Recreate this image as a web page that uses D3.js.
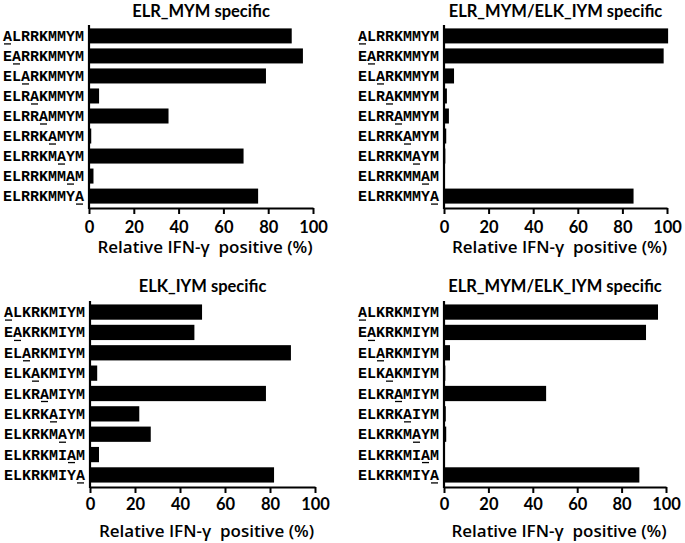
<!DOCTYPE html>
<html>
<head>
<meta charset="utf-8">
<script src="https://cdn.jsdelivr.net/npm/d3@7"></script>
<style>
  body { margin: 0; background: #fff; }
  svg { display: block; }
  .title { font-family: Lato, "Open Sans", sans-serif; font-weight: bold; font-size: 16.5px; }
  .axis-title { font-family: "Open Sans", Lato, sans-serif; font-weight: 600; font-size: 17px; white-space: pre; }
  .seq { font-family: "Liberation Mono", "Courier New", monospace; font-weight: bold; font-size: 14px; }
  .xaxis text { font-family: Lato, "Open Sans", sans-serif; font-weight: bold; font-size: 16.5px; fill: #000; }
</style>
</head>
<body>
<div id="chart"></div>
<script>
// peptide names, the underlined (alanine-substituted) position is the row index
const peptidesMYM = ['ALRRKMMYM', 'EARRKMMYM', 'ELARKMMYM', 'ELRAKMMYM', 'ELRRAMMYM',
                     'ELRRKAMYM', 'ELRRKMAYM', 'ELRRKMMAM', 'ELRRKMMYA'];
const peptidesIYM = ['ALKRKMIYM', 'EAKRKMIYM', 'ELARKMIYM', 'ELKAKMIYM', 'ELKRAMIYM',
                     'ELKRKAIYM', 'ELKRKMAYM', 'ELKRKMIAM', 'ELKRKMIYA'];
const mutatedPos = [0, 1, 2, 3, 4, 5, 6, 7, 8];

// relative IFN-gamma positive (%)
const mymSpecific = [90.5, 95.5, 79, 4.5, 35.5, 1, 69, 2, 75.5];
const mymCross    = [100.5, 98.5, 4.5, 1.3, 2.2, 1, 0.6, 0.4, 85];
const iymSpecific = [49.8, 46.4, 89.3, 3.2, 78.2, 21.9, 27, 4, 81.8];
const iymCross    = [96.4, 91, 2.7, 0.6, 46, 0.8, 1, 0.4, 88];

const titles = ['ELR_MYM specific', 'ELR_MYM/ELK_IYM specific', 'ELK_IYM specific', 'ELR_MYM/ELK_IYM specific'];
const xTicks = [0, 20, 40, 60, 80, 100];
const xLabel = 'Relative IFN-\u03b3  positive (%)';

const width = 685, height = 543;

// panel placement (pixels)
const panels = [
  {peptides: peptidesMYM, values: mymSpecific, title: titles[0], x0: 89,  x1: 313, top: 25,  axisY: 208, titleY: 17,  tickPad: 7, labelY: 253},
  {peptides: peptidesMYM, values: mymCross,    title: titles[1], x0: 444, x1: 667, top: 25,  axisY: 208, titleY: 17,  tickPad: 7, labelY: 253},
  {peptides: peptidesIYM, values: iymSpecific, title: titles[2], x0: 90,  x1: 315, top: 301, axisY: 487, titleY: 292, tickPad: 5, labelY: 537},
  {peptides: peptidesIYM, values: iymCross,    title: titles[3], x0: 444, x1: 666, top: 301, axisY: 487, titleY: 292, tickPad: 5, labelY: 537}
];

const svg = d3.select('#chart').append('svg')
    .attr('width', width)
    .attr('height', height);

panels.forEach(p => {
    const g = svg.append('g');
    const data = p.peptides.map((name, i) => ({name, value: p.values[i], pos: mutatedPos[i]}));

    const scaleX = d3.scaleLinear([0, 100], [p.x0, p.x1]);
    const scaleY = d3.scaleBand(p.peptides, [p.top + 1, p.axisY - 2]).paddingInner(0.25).paddingOuter(0.12);

    // bars
    g.selectAll('rect.bar')
        .data(data)
        .join('rect')
        .classed('bar', true)
        .attr('x', scaleX(0))
        .attr('y', d => scaleY(d.name))
        .attr('width', d => scaleX(d.value) - scaleX(0))
        .attr('height', scaleY.bandwidth())
        .attr('fill', '#000');

    // x axis
    const axisX = g.append('g')
        .attr('class', 'xaxis')
        .attr('transform', `translate(0, ${p.axisY})`)
        .call(d3.axisBottom(scaleX).tickValues(xTicks).tickSize(6).tickSizeOuter(0).tickPadding(p.tickPad));
    axisX.select('.domain').attr('stroke', '#000').attr('stroke-width', 2.2);
    axisX.selectAll('.tick line').attr('stroke', '#000').attr('stroke-width', 2);

    // y axis line
    g.append('line')
        .attr('x1', scaleX(0)).attr('x2', scaleX(0))
        .attr('y1', p.top).attr('y2', p.axisY + 1)
        .attr('stroke', '#000').attr('stroke-width', 2.2);

    // peptide labels
    const labels = g.selectAll('text.seq')
        .data(data)
        .join('text')
        .classed('seq', true)
        .attr('x', scaleX(0) - 5 - 81)
        .attr('y', d => scaleY(d.name) + scaleY.bandwidth() / 2 + 5)
        .attr('textLength', 81)
        .attr('lengthAdjust', 'spacingAndGlyphs')
        .text(d => d.name);

    // underline the substituted residue
    labels.each(function(d) {
        const ext = this.getExtentOfChar(d.pos);
        const y = +this.getAttribute('y') + 3;
        g.append('line')
            .attr('x1', ext.x + 1).attr('x2', ext.x + ext.width - 1)
            .attr('y1', y).attr('y2', y)
            .attr('stroke', '#000').attr('stroke-width', 1.3);
    });

    // titles
    g.append('text')
        .attr('class', 'title')
        .attr('x', (p.x0 + p.x1) / 2)
        .attr('y', p.titleY)
        .attr('text-anchor', 'middle')
        .text(p.title);

    g.append('text')
        .attr('class', 'axis-title')
        .attr('x', (p.x0 + p.x1) / 2 + 4)
        .attr('y', p.labelY)
        .attr('text-anchor', 'middle')
        .text(xLabel);
});
</script>
</body>
</html>
